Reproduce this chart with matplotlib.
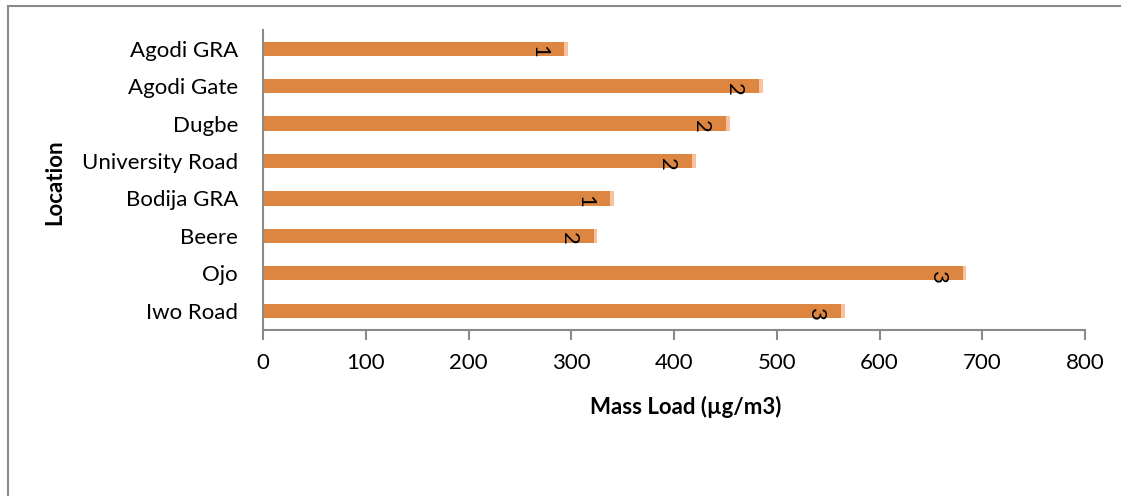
import matplotlib.pyplot as plt
from matplotlib.patches import Rectangle

# Mass load per sampling location
locations = ['Iwo Road', 'Ojo', 'Beere', 'Bodija GRA', 'University Road',
             'Dugbe', 'Agodi Gate', 'Agodi GRA']
mass_load = [563, 681, 322, 338, 418, 451, 483, 293]
labels = ['3', '3', '2', '1', '2', '2', '2', '1']

BAR = '#dd8641'
CAP = '#f7c29d'
GREY = '#8a8a8a'

plt.rcParams['font.family'] = ['Lato', 'DejaVu Sans']

fig = plt.figure(figsize=(11.21, 4.96), dpi=100)
ax = fig.add_axes([263 / 1121, 1 - 329.5 / 496, 822 / 1121, 299.5 / 496])

y = range(len(locations))
ax.barh(y, mass_load, height=0.38, color=BAR, zorder=2)
# light cap at the end of each bar
ax.barh(y, [3.5] * len(mass_load), left=mass_load, height=0.38, color=CAP, zorder=2)

for i, (v, lab) in enumerate(zip(mass_load, labels)):
    ax.annotate(lab, (v, i), xytext=(-25, -3), textcoords='offset pixels',
                rotation=-90, ha='center', va='center', fontsize=16, color='black')

ax.set_xlim(0, 800)
ax.set_ylim(-0.5, len(locations) - 0.5)
ax.set_xticks(range(0, 801, 100))
ax.set_yticks(list(y))
ax.set_yticklabels(locations)

for side in ['top', 'right']:
    ax.spines[side].set_visible(False)
for side in ['left', 'bottom']:
    ax.spines[side].set_color(GREY)
    ax.spines[side].set_linewidth(1.5)

ax.tick_params(axis='x', length=7, width=1.5, color=GREY, labelsize=16, pad=10)
ax.tick_params(axis='y', length=0, labelsize=16, pad=18)

fig.text(686 / 1121, 1 - 407 / 496, 'Mass Load (\u00b5g/m3)', ha='center', va='center',
         fontsize=16, fontweight='bold')
fig.text(55 / 1121, 1 - 182 / 496, 'Location', ha='center', va='center',
         rotation=90, fontsize=16, fontweight='bold')

# chart area border
fig.patches.append(Rectangle((7.5 / 1121, -0.1), 1.2, 1 - 5.5 / 496 + 0.1,
                             transform=fig.transFigure, fill=False,
                             edgecolor=GREY, linewidth=1.5))

fig.savefig('out.png', dpi=100)
